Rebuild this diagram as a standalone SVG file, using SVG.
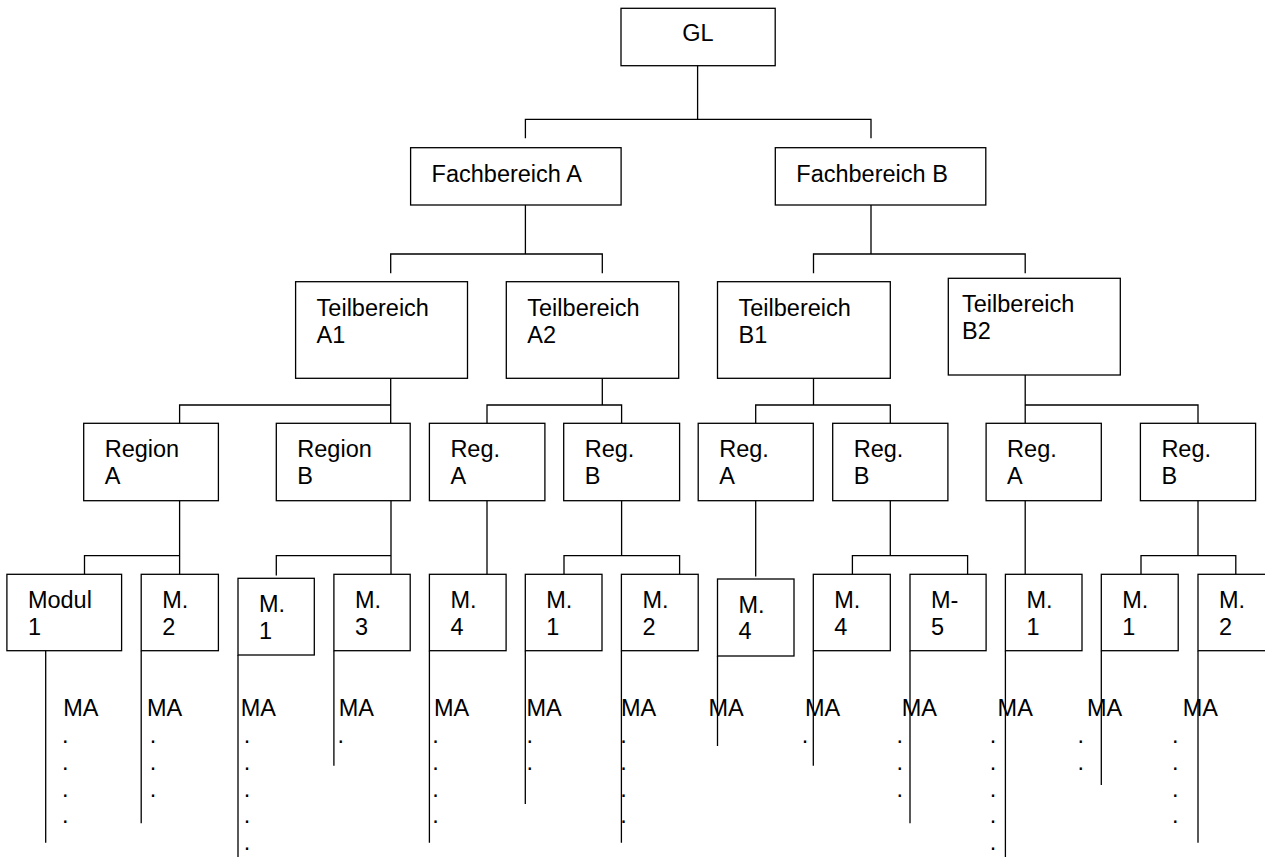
<svg xmlns="http://www.w3.org/2000/svg" width="1265" height="858" viewBox="0 0 1265 858">
<style>
rect{fill:#fff;stroke:#000;stroke-width:1.3}
path{fill:none;stroke:#000;stroke-width:1.3}
text{font-family:"Liberation Sans",Arial,sans-serif;font-size:23.5px;fill:#000}
</style>
<rect x="0" y="0" width="1265" height="858" style="stroke:none"/>
<g id="connectors">
<path d="M697.6 65.7V119.3M525.4 138.3V119.3H871V138.3"/>
<path d="M525.4 196.7V254M390.7 273.3V254H602.3V273.3"/>
<path d="M871 196.7V254M813.5 273.3V254H1025.2V273.3"/>
<path d="M390.7 366.7V423.3M179.6 423.3V405H390.7"/>
<path d="M602.3 366.7V405M487 423.3V405H621.6V423.3"/>
<path d="M813.5 366.7V405M755.7 423.3V405H890.3V423.3"/>
<path d="M1025.2 364V423.3M1025.2 405H1198V423.3"/>
<path d="M179.6 497V574.3M84.5 574.3V555.7H179.6"/>
<path d="M391 497V574.3M276.3 575.5V555.7H391"/>
<path d="M487 497V574.3"/>
<path d="M621.6 497V555.7M564 574.3V555.7H679.6V574.3"/>
<path d="M755.7 497V576.5"/>
<path d="M890.3 497V555.7M852.4 574.3V555.7H967.6V574.3"/>
<path d="M1025.2 497V574.3"/>
<path d="M1198 497V555.7M1141 574.3V555.7H1235.8V574.3"/>
<path d="M45.7 648V842.7M141.2 650.7V823.3M238 655V857M333.9 650.7V765.7M429.4 650.7V842.7M525.3 650.7V804M621.4 650.7V842.7M717.5 656V746M813.3 650.7V765.7M910 650.7V823.3M1005.4 650.7V857M1101.3 650.7V785M1198 650.7V842.7"/>
</g>
<g id="n_gl"><rect x="621" y="8.3" width="154.2" height="57.4"/><text x="698" y="40.7" text-anchor="middle">GL</text></g>
<g id="n_fa"><rect x="410.6" y="147.7" width="210.5" height="57.3"/><text x="431.6" y="181.7">Fachbereich A</text></g>
<g id="n_fb"><rect x="775.3" y="147.7" width="210.5" height="57.3"/><text x="796.3" y="181.7">Fachbereich B</text></g>
<g id="n_ta1"><rect x="295.6" y="281.7" width="171.9" height="96.6"/><text x="316.6" y="315.7">Teilbereich<tspan x="316.6" y="342.7">A1</tspan></text></g>
<g id="n_ta2"><rect x="506.3" y="281.7" width="172.4" height="96.6"/><text x="527.3" y="315.7">Teilbereich<tspan x="527.3" y="342.7">A2</tspan></text></g>
<g id="n_tb1"><rect x="717.5" y="281.7" width="172.8" height="96.6"/><text x="738.5" y="315.7">Teilbereich<tspan x="738.5" y="342.7">B1</tspan></text></g>
<g id="n_tb2"><rect x="948.3" y="278.3" width="172" height="96.7"/><text x="962" y="312">Teilbereich<tspan x="962" y="339">B2</tspan></text></g>
<g id="n_ra1"><rect x="83.7" y="423.3" width="134.7" height="77.4"/><text x="104.7" y="456.7">Region<tspan x="104.7" y="483.7">A</tspan></text></g>
<g id="n_rb1"><rect x="276.3" y="423.3" width="133.9" height="77.4"/><text x="297.3" y="456.7">Region<tspan x="297.3" y="483.7">B</tspan></text></g>
<g id="n_ra2"><rect x="429.4" y="423.3" width="115.5" height="77.4"/><text x="450.4" y="456.7">Reg.<tspan x="450.4" y="483.7">A</tspan></text></g>
<g id="n_rb2"><rect x="563.7" y="423.3" width="115.9" height="77.4"/><text x="584.7" y="456.7">Reg.<tspan x="584.7" y="483.7">B</tspan></text></g>
<g id="n_ra3"><rect x="698.2" y="423.3" width="115.1" height="77.4"/><text x="719.2" y="456.7">Reg.<tspan x="719.2" y="483.7">A</tspan></text></g>
<g id="n_rb3"><rect x="832.7" y="423.3" width="115.2" height="77.4"/><text x="853.7" y="456.7">Reg.<tspan x="853.7" y="483.7">B</tspan></text></g>
<g id="n_ra4"><rect x="986.1" y="423.3" width="115.2" height="77.4"/><text x="1007.1" y="456.7">Reg.<tspan x="1007.1" y="483.7">A</tspan></text></g>
<g id="n_rb4"><rect x="1140.4" y="423.3" width="115.2" height="77.4"/><text x="1161.4" y="456.7">Reg.<tspan x="1161.4" y="483.7">B</tspan></text></g>
<g id="n_m1"><rect x="6.9" y="574.3" width="114.7" height="76.4"/><text x="27.9" y="608.3">Modul<tspan x="27.9" y="634.5">1</tspan></text></g>
<g id="n_m2"><rect x="141.2" y="574.3" width="77.2" height="76.4"/><text x="162.2" y="608.3">M.<tspan x="162.2" y="634.5">2</tspan></text></g>
<g id="n_m3"><rect x="238" y="578.3" width="76.3" height="76.7"/><text x="259" y="612.3">M.<tspan x="259" y="638.8">1</tspan></text></g>
<g id="n_m4"><rect x="333.9" y="574.3" width="76.3" height="76.4"/><text x="354.9" y="608.3">M.<tspan x="354.9" y="634.5">3</tspan></text></g>
<g id="n_m5"><rect x="429.4" y="574.3" width="76.7" height="76.4"/><text x="450.4" y="608.3">M.<tspan x="450.4" y="634.5">4</tspan></text></g>
<g id="n_m6"><rect x="525.3" y="574.3" width="76.7" height="76.4"/><text x="546.3" y="608.3">M.<tspan x="546.3" y="634.5">1</tspan></text></g>
<g id="n_m7"><rect x="621.4" y="574.3" width="76.8" height="76.4"/><text x="642.4" y="608.3">M.<tspan x="642.4" y="634.5">2</tspan></text></g>
<g id="n_m8"><rect x="717.5" y="579" width="76.5" height="77"/><text x="738.5" y="613">M.<tspan x="738.5" y="639.3">4</tspan></text></g>
<g id="n_m9"><rect x="813.3" y="574.3" width="77" height="76.4"/><text x="834.3" y="608.3">M.<tspan x="834.3" y="634.5">4</tspan></text></g>
<g id="n_m10"><rect x="910" y="574.3" width="76.1" height="76.4"/><text x="931" y="608.3">M-<tspan x="931" y="634.5">5</tspan></text></g>
<g id="n_m11"><rect x="1005.4" y="574.3" width="76.6" height="76.4"/><text x="1026.4" y="608.3">M.<tspan x="1026.4" y="634.5">1</tspan></text></g>
<g id="n_m12"><rect x="1101.3" y="574.3" width="76.9" height="76.4"/><text x="1122.3" y="608.3">M.<tspan x="1122.3" y="634.5">1</tspan></text></g>
<g id="n_m13"><rect x="1198" y="574.3" width="80" height="76.4"/><text x="1219" y="608.3">M.<tspan x="1219" y="634.5">2</tspan></text></g>
<g id="staff">
<text x="63.3" y="715.5">MA<tspan x="62" y="743">.</tspan><tspan x="62" y="769.8">.</tspan><tspan x="62" y="796.6">.</tspan><tspan x="62" y="823.4">.</tspan></text>
<text x="147" y="715.5">MA<tspan x="149.7" y="743">.</tspan><tspan x="149.7" y="769.8">.</tspan><tspan x="149.7" y="796.6">.</tspan></text>
<text x="240.8" y="715.5">MA<tspan x="243.7" y="743">.</tspan><tspan x="243.7" y="769.8">.</tspan><tspan x="243.7" y="796.6">.</tspan><tspan x="243.7" y="823.4">.</tspan><tspan x="243.7" y="850.2">.</tspan></text>
<text x="338.8" y="715.5">MA<tspan x="337.5" y="743">.</tspan></text>
<text x="433.9" y="715.5">MA<tspan x="432.2" y="743">.</tspan><tspan x="432.2" y="769.8">.</tspan><tspan x="432.2" y="796.6">.</tspan><tspan x="432.2" y="823.4">.</tspan></text>
<text x="526.5" y="715.5">MA<tspan x="526.5" y="743">.</tspan><tspan x="526.5" y="769.8">.</tspan></text>
<text x="621" y="715.5">MA<tspan x="620.2" y="743">.</tspan><tspan x="620.2" y="769.8">.</tspan><tspan x="620.2" y="796.6">.</tspan><tspan x="620.2" y="823.4">.</tspan></text>
<text x="708.4" y="715.5">MA</text>
<text x="805" y="715.5">MA<tspan x="801.8" y="743">.</tspan></text>
<text x="901.8" y="715.5">MA<tspan x="896.4" y="743">.</tspan><tspan x="896.4" y="769.8">.</tspan><tspan x="896.4" y="796.6">.</tspan></text>
<text x="997.6" y="715.5">MA<tspan x="989.7" y="743">.</tspan><tspan x="989.7" y="769.8">.</tspan><tspan x="989.7" y="796.6">.</tspan><tspan x="989.7" y="823.4">.</tspan><tspan x="989.7" y="850.2">.</tspan></text>
<text x="1087" y="715.5">MA<tspan x="1077.4" y="743">.</tspan><tspan x="1077.4" y="769.8">.</tspan></text>
<text x="1182.7" y="715.5">MA<tspan x="1172" y="743">.</tspan><tspan x="1172" y="769.8">.</tspan><tspan x="1172" y="796.6">.</tspan><tspan x="1172" y="823.4">.</tspan></text>
</g>
</svg>
